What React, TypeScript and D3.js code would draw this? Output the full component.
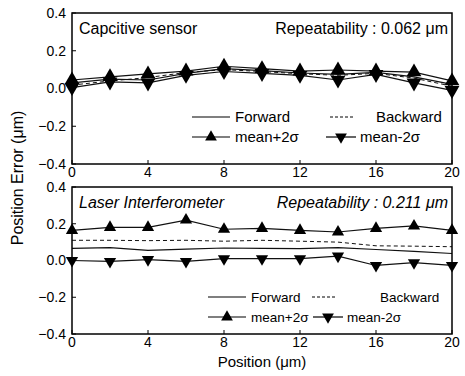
import * as d3 from 'd3';
import React from 'react';

// Positions along the stage (μm)
const positions = [0, 2, 4, 6, 8, 10, 12, 14, 16, 18, 20];
const xTicks = [0, 4, 8, 12, 16, 20];
const yTicks = [0.4, 0.2, 0.0, -0.2, -0.4];

// Capacitive sensor (top panel)
const capForward = [0.03, 0.05, 0.045, 0.08, 0.105, 0.095, 0.082, 0.075, 0.085, 0.062, 0.022];
const capBackward = [0.018, 0.04, 0.058, 0.085, 0.1, 0.09, 0.078, 0.07, 0.08, 0.055, 0.012];
const capPlus2s = [0.045, 0.062, 0.077, 0.092, 0.118, 0.105, 0.092, 0.098, 0.092, 0.087, 0.04];
const capMinus2s = [0.005, 0.035, 0.03, 0.07, 0.09, 0.08, 0.07, 0.045, 0.075, 0.03, -0.01];

// Laser interferometer (bottom panel)
const laserForward = [0.066, 0.07, 0.055, 0.062, 0.068, 0.066, 0.065, 0.07, 0.06, 0.05, 0.038];
const laserBackward = [0.11, 0.11, 0.108, 0.11, 0.105, 0.11, 0.105, 0.1, 0.08, 0.078, 0.075];
const laserPlus2s = [0.164, 0.18, 0.18, 0.22, 0.17, 0.175, 0.164, 0.155, 0.175, 0.188, 0.164];
const laserMinus2s = [0.0, -0.005, 0.005, -0.005, 0.01, 0.01, 0.01, 0.024, -0.027, -0.012, -0.027];

const FONT = 'Arial, "Liberation Sans", Helvetica, sans-serif';
const W = 465;
const H = 376;
const left = 72;
const right = 452;

const x = d3.scaleLinear().domain([0, 20]).range([left, right]);
const legendTri = d3.symbol(d3.symbolTriangle).size(60)();

interface PanelProps {
  top: number;
  bottom: number;
  forward: number[];
  backward: number[];
  plus: number[];
  minus: number[];
  title: string;
  repeat: string;
  italic?: boolean;
  markerSize: number;
  legendFont: number;
  legendY: number;
  legendX: number;
  lineLen: number;
  dashX: number;
  backTextX: number;
  minusX: number;
}

const Panel = (p: PanelProps) => {
  const { top, bottom, forward, backward, plus, minus, title, repeat, italic, legendY, legendX, lineLen, dashX, backTextX, minusX, legendFont } = p;
  const y = d3.scaleLinear().domain([-0.4, 0.4]).range([bottom, top]);
  const line = d3.line<number>()
    .x((_, i) => x(positions[i]))
    .y(d => y(d));
  const tri = d3.symbol(d3.symbolTriangle).size(p.markerSize)();
  const style = italic ? 'italic' : 'normal';
  const r2 = legendY + 20;
  return (
    <g>
      <path d={line(backward) || ''} fill="none" stroke="#111" strokeWidth={1} strokeDasharray="4,3" />
      <path d={line(forward) || ''} fill="none" stroke="#111" strokeWidth={1.2} />
      <path d={line(plus) || ''} fill="none" stroke="#111" strokeWidth={1.2} />
      <path d={line(minus) || ''} fill="none" stroke="#111" strokeWidth={1.2} />
      {plus.map((v, i) => (
        <path key={'p' + i} d={tri} transform={`translate(${x(positions[i])},${y(v)})`} fill="#000" />
      ))}
      {minus.map((v, i) => (
        <path key={'m' + i} d={tri} transform={`translate(${x(positions[i])},${y(v)}) rotate(180)`} fill="#000" />
      ))}
      <rect x={left} y={top} width={right - left} height={bottom - top} fill="none" stroke="#000" strokeWidth={1.5} />
      {yTicks.map(t => (
        <g key={'y' + t}>
          <line x1={left} x2={left + 4} y1={y(t)} y2={y(t)} stroke="#000" />
          <text x={left - 6} y={y(t)} dy="0.35em" textAnchor="end" fontSize={14} fontFamily={FONT} fill="#000">
            {d3.format('.1f')(t)}
          </text>
        </g>
      ))}
      {xTicks.map(t => (
        <g key={'x' + t}>
          <line x1={x(t)} x2={x(t)} y1={bottom} y2={bottom - 4} stroke="#000" />
          <text x={x(t)} y={bottom + 13} textAnchor="middle" fontSize={14} fontFamily={FONT} fill="#000">
            {t}
          </text>
        </g>
      ))}
      <text x={left + 7} y={top + 21} fontSize={16} fontFamily={FONT} fontStyle={style} fill="#000">{title}</text>
      <text x={right - 4} y={top + 21} textAnchor="end" fontSize={16} fontFamily={FONT} fontStyle={style} fill="#000">{repeat}</text>
      {/* legend */}
      <line x1={legendX} x2={legendX + lineLen} y1={legendY} y2={legendY} stroke="#000" strokeWidth={1.2} />
      <text x={legendX + lineLen + 5} y={legendY} dy="0.35em" fontSize={legendFont} fontFamily={FONT} fill="#000">Forward</text>
      <line x1={dashX} x2={dashX + 24} y1={legendY} y2={legendY} stroke="#000" strokeDasharray="3,2" />
      <text x={backTextX} y={legendY} dy="0.35em" fontSize={legendFont} fontFamily={FONT} fill="#000">Backward</text>
      <line x1={legendX} x2={legendX + lineLen} y1={r2} y2={r2} stroke="#000" strokeWidth={1.2} />
      <path d={legendTri} transform={`translate(${legendX + lineLen / 2},${r2})`} fill="#000" />
      <text x={legendX + lineLen + 5} y={r2} dy="0.35em" fontSize={legendFont} fontFamily={FONT} fill="#000">mean+2σ</text>
      <line x1={minusX} x2={minusX + 30} y1={r2} y2={r2} stroke="#000" strokeWidth={1.2} />
      <path d={legendTri} transform={`translate(${minusX + 15},${r2}) rotate(180)`} fill="#000" />
      <text x={minusX + 34} y={r2} dy="0.35em" fontSize={legendFont} fontFamily={FONT} fill="#000">mean-2σ</text>
    </g>
  );
};

export default function App() {
  return (
    <svg width={W} height={H} style={{ position: 'absolute', left: 0, top: 0, background: '#fff' }}>
      <Panel
        top={13} bottom={164}
        forward={capForward} backward={capBackward} plus={capPlus2s} minus={capMinus2s}
        title="Capcitive sensor" repeat="Repeatability : 0.062 μm"
        markerSize={95} legendFont={15}
        legendY={117} legendX={192} lineLen={38} dashX={330} backTextX={376} minusX={326}
      />
      <Panel
        top={187} bottom={334}
        forward={laserForward} backward={laserBackward} plus={laserPlus2s} minus={laserMinus2s}
        title="Laser Interferometer" repeat="Repeatability : 0.211 μm" italic
        markerSize={65} legendFont={13.5}
        legendY={297} legendX={208} lineLen={38} dashX={312} backTextX={380} minusX={313}
      />
      <text x={262} y={367} textAnchor="middle" fontSize={15} fontFamily={FONT} fill="#000">Position (μm)</text>
      <text transform="translate(23,178) rotate(-90)" textAnchor="middle" fontSize={16} fontFamily={FONT} fill="#000">
        Position Error (μm)
      </text>
    </svg>
  );
}
